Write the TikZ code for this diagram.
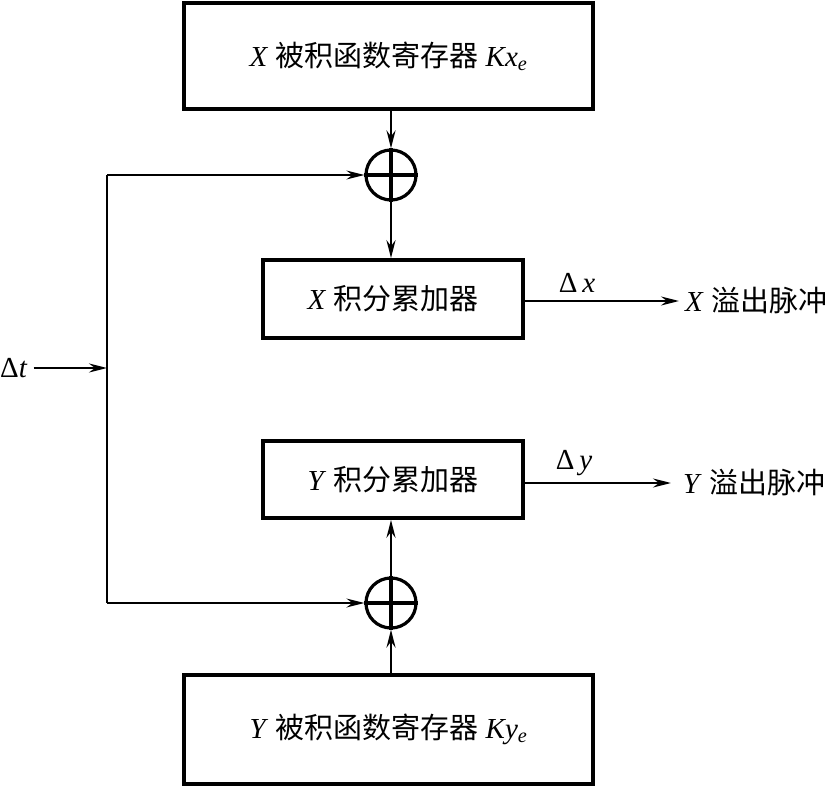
\documentclass[tikz,border=0pt]{standalone}
\usepackage{fontspec}
\setmainfont{Liberation Serif}
\newfontfamily\cjk{Noto Sans CJK SC}
\usetikzlibrary{arrows.meta,calc}
\begin{document}
\begin{tikzpicture}[x=1pt,y=-1pt,
  font=\fontsize{29}{34}\selectfont,
  box/.style={draw,line width=3.6pt,inner sep=0pt},
  sumnode/.style={draw,circle,line width=3.2pt,minimum size=50pt,inner sep=0pt},
  conn/.style={line width=2.2pt},
  arr/.style={conn,-{Stealth[length=18pt,width=9pt,inset=6pt]}},
  lbl/.style={inner sep=0pt}]
\useasboundingbox (0,0) rectangle (832,786);
\node[box,minimum width=409pt,minimum height=106pt] (regX) at (388.5,56)
  {\textit{X} {\cjk 被积函数寄存器} \textit{Kx}\textsubscript{\textit{e}}};
\node[sumnode] (sumX) at (391,175) {};
\draw[line width=3.6pt] (sumX.north) -- (sumX.south) (sumX.west) -- (sumX.east);
\node[box,minimum width=260pt,minimum height=78pt] (accX) at (393,299)
  {\textit{X} {\cjk 积分累加器}};
\node[box,minimum width=260pt,minimum height=77pt] (accY) at (393,479.5)
  {\textit{Y} {\cjk 积分累加器}};
\node[sumnode] (sumY) at (391,603) {};
\draw[line width=3.6pt] (sumY.north) -- (sumY.south) (sumY.west) -- (sumY.east);
\node[box,minimum width=409pt,minimum height=109pt] (regY) at (388.5,729.5)
  {\textit{Y} {\cjk 被积函数寄存器} \textit{Ky}\textsubscript{\textit{e}}};
% vertical feeds
\draw[arr] (regX.south -| sumX) -- (sumX.north);
\draw[arr] (sumX.south) -- (accX.north -| sumX);
\draw[arr] (regY.north -| sumY) -- (sumY.south);
\draw[arr] (sumY.north) -- (accY.south -| sumY);
% delta t distribution
\coordinate (j1) at (107,175);
\coordinate (j2) at (107,603);
\coordinate (jt) at (107,368);
\draw[line width=1.6pt] (j1) -- (j2);
\draw[arr,line width=1.6pt] (j1) -- (sumX.west);
\draw[arr,line width=1.6pt] (j2) -- (sumY.west);
\node[lbl,anchor=west] (dt) at (0,368) {Δ\textit{t}};
\draw[arr] ($(dt.east)+(6,0)$) -- (jt);
% outputs
\node[lbl,anchor=west] (outX) at (685,301) {\textit{X} {\cjk 溢出脉冲}};
\node[lbl,anchor=west] (outY) at (683,483) {\textit{Y} {\cjk 溢出脉冲}};
\draw[arr] (accX.east |- outX.west) -- ($(outX.west)+(-6,0)$);
\draw[arr] (accY.east |- outY.west) -- ($(outY.west)+(-12,0)$);
\node[lbl] (dx) at (577,283) {Δ\,\textit{x}};
\node[lbl] (dy) at (574,463) {Δ\,\textit{y}};
\end{tikzpicture}
\end{document}
